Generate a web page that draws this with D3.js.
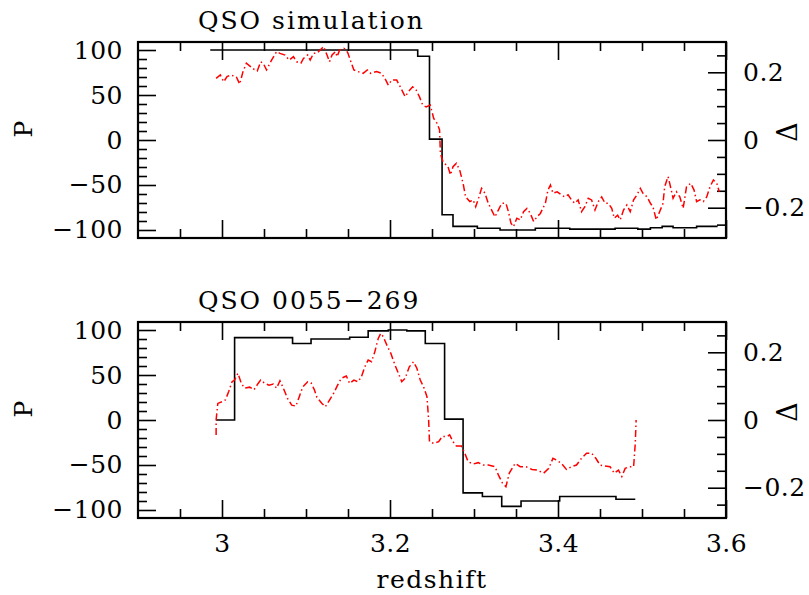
<!DOCTYPE html>
<html>
<head>
<meta charset="utf-8">
<script src="https://cdn.jsdelivr.net/npm/d3@7"></script>
<style>
  body { margin: 0; background: #fff; }
  text { font-family: "DejaVu Serif", serif; }
</style>
</head>
<body>
<script>
var W = 809, H = 595;

// tick values
var zMajor = [3.0, 3.2, 3.4, 3.6];
var zMinor = [2.95, 3.05, 3.1, 3.15, 3.25, 3.3, 3.35, 3.45, 3.5, 3.55];
var pMajor = [-100, -50, 0, 50, 100];
var pMinor = [-90, -80, -70, -60, -40, -30, -20, -10, 10, 20, 30, 40, 60, 70, 80, 90];
var dMajor = [-0.2, 0, 0.2];
var dMinor = [-0.25, -0.15, -0.1, -0.05, 0.05, 0.1, 0.15, 0.25];

// top panel: simulation, P as steps (left axis)
var simStepZ = [2.986, 3.233, 3.247, 3.262, 3.275, 3.304, 3.331, 3.373, 3.414, 3.468, 3.495, 3.510, 3.524, 3.537, 3.565, 3.590];
var simStepP = [100, 93, 1, -83, -96, -98, -100, -98, -99, -98, -99, -97.5, -96, -97.5, -96, -96];

// top panel: Delta (right axis), [redshift, delta]
var simDelta = [
  [2.993, 0.182], [2.998, 0.192], [3.002, 0.172], [3.006, 0.187], [3.010, 0.192], [3.017, 0.187],
  [3.021, 0.165], [3.025, 0.202], [3.029, 0.227], [3.034, 0.217], [3.038, 0.209], [3.042, 0.204],
  [3.046, 0.231], [3.049, 0.227], [3.053, 0.207], [3.059, 0.236], [3.065, 0.261], [3.069, 0.256],
  [3.075, 0.251], [3.080, 0.236], [3.085, 0.246], [3.089, 0.231], [3.094, 0.227], [3.097, 0.241],
  [3.102, 0.251], [3.105, 0.236], [3.109, 0.256], [3.113, 0.256], [3.119, 0.271], [3.121, 0.276],
  [3.125, 0.251], [3.128, 0.231], [3.131, 0.251], [3.135, 0.261], [3.137, 0.246], [3.140, 0.266],
  [3.145, 0.271], [3.148, 0.266], [3.150, 0.256], [3.154, 0.227], [3.157, 0.207], [3.162, 0.202],
  [3.168, 0.197], [3.173, 0.207], [3.177, 0.197], [3.184, 0.202], [3.190, 0.197], [3.195, 0.177],
  [3.198, 0.162], [3.202, 0.177], [3.208, 0.177], [3.213, 0.153], [3.218, 0.128], [3.222, 0.143],
  [3.227, 0.157], [3.231, 0.148], [3.235, 0.128], [3.239, 0.103], [3.243, 0.098], [3.248, 0.103],
  [3.252, 0.064], [3.256, 0.049], [3.259, 0.030], [3.260, -0.039], [3.263, -0.064], [3.269, -0.079],
  [3.272, -0.103], [3.275, -0.079], [3.279, -0.069], [3.283, -0.089], [3.287, -0.128], [3.290, -0.168],
  [3.295, -0.182], [3.299, -0.177], [3.302, -0.197], [3.306, -0.168], [3.309, -0.143], [3.313, -0.157],
  [3.317, -0.187], [3.321, -0.207], [3.325, -0.227], [3.329, -0.207], [3.333, -0.187], [3.338, -0.187],
  [3.341, -0.212], [3.344, -0.246], [3.347, -0.256], [3.351, -0.231], [3.355, -0.236], [3.359, -0.212],
  [3.363, -0.202], [3.367, -0.217], [3.371, -0.241], [3.375, -0.227], [3.379, -0.217], [3.385, -0.187],
  [3.388, -0.148], [3.391, -0.133], [3.394, -0.157], [3.399, -0.153], [3.404, -0.162], [3.408, -0.168],
  [3.412, -0.162], [3.416, -0.177], [3.420, -0.187], [3.424, -0.177], [3.428, -0.212], [3.432, -0.197],
  [3.436, -0.172], [3.440, -0.177], [3.444, -0.207], [3.448, -0.182], [3.452, -0.168], [3.456, -0.187],
  [3.460, -0.187], [3.464, -0.202], [3.467, -0.231], [3.471, -0.222], [3.474, -0.236], [3.478, -0.207],
  [3.482, -0.192], [3.486, -0.212], [3.490, -0.177], [3.494, -0.162], [3.498, -0.143], [3.501, -0.157],
  [3.506, -0.168], [3.510, -0.187], [3.513, -0.197], [3.517, -0.236], [3.521, -0.212], [3.525, -0.187],
  [3.527, -0.138], [3.531, -0.108], [3.533, -0.128], [3.537, -0.172], [3.541, -0.153], [3.545, -0.168],
  [3.549, -0.202], [3.553, -0.138], [3.558, -0.128], [3.562, -0.148], [3.565, -0.182], [3.569, -0.177],
  [3.573, -0.182], [3.577, -0.168], [3.581, -0.138], [3.585, -0.118], [3.589, -0.128], [3.592, -0.153]
];

// bottom panel: QSO 0055-269
var qsoStepZ = [2.993, 3.015, 3.084, 3.106, 3.152, 3.174, 3.198, 3.220, 3.242, 3.265, 3.287, 3.310, 3.333, 3.356, 3.402, 3.469, 3.492];
var qsoStepP = [0, 91.5, 85, 90, 92, 99, 100, 99, 85, 1, -81, -85, -96, -90, -85, -88, -88];

var qsoDelta = [
  [2.993, -0.044], [2.993, 0], [2.995, 0.049], [3.000, 0.054], [3.004, 0.059], [3.008, 0.084],
  [3.012, 0.113], [3.015, 0.118], [3.019, 0.138], [3.023, 0.108], [3.027, 0.094], [3.033, 0.097],
  [3.038, 0.089], [3.043, 0.108], [3.046, 0.118], [3.051, 0.108], [3.056, 0.103], [3.061, 0.106],
  [3.065, 0.094], [3.069, 0.116], [3.073, 0.094], [3.078, 0.064], [3.083, 0.044], [3.088, 0.041],
  [3.092, 0.069], [3.096, 0.097], [3.102, 0.113], [3.106, 0.110], [3.110, 0.089], [3.113, 0.067],
  [3.119, 0.049], [3.123, 0.039], [3.128, 0.059], [3.133, 0.079], [3.137, 0.100], [3.142, 0.123],
  [3.148, 0.130], [3.152, 0.108], [3.157, 0.118], [3.162, 0.113], [3.166, 0.128], [3.170, 0.157],
  [3.174, 0.177], [3.178, 0.172], [3.182, 0.202], [3.186, 0.241], [3.189, 0.256], [3.192, 0.246],
  [3.197, 0.217], [3.201, 0.197], [3.206, 0.162], [3.210, 0.138], [3.214, 0.113], [3.218, 0.123],
  [3.223, 0.157], [3.228, 0.172], [3.232, 0.153], [3.236, 0.118], [3.240, 0.098], [3.244, 0.069],
  [3.246, 0], [3.247, -0.064], [3.252, -0.069], [3.258, -0.064], [3.262, -0.049], [3.268, -0.049],
  [3.271, -0.044], [3.275, -0.064], [3.279, -0.077], [3.285, -0.077], [3.289, -0.098], [3.293, -0.123],
  [3.299, -0.130], [3.305, -0.126], [3.311, -0.133], [3.317, -0.133], [3.325, -0.138], [3.329, -0.162],
  [3.334, -0.187], [3.338, -0.197], [3.342, -0.157], [3.349, -0.128], [3.355, -0.138], [3.362, -0.138],
  [3.369, -0.146], [3.375, -0.148], [3.383, -0.157], [3.389, -0.143], [3.394, -0.113], [3.398, -0.118],
  [3.404, -0.128], [3.410, -0.146], [3.416, -0.138], [3.422, -0.133], [3.428, -0.113], [3.434, -0.098],
  [3.440, -0.098], [3.445, -0.113], [3.450, -0.133], [3.456, -0.136], [3.462, -0.138], [3.467, -0.157],
  [3.472, -0.148], [3.476, -0.167], [3.480, -0.143], [3.485, -0.138], [3.490, -0.138], [3.492, -0.069],
  [3.493, 0]
];

var svg = d3.select("body").append("svg")
    .attr("width", W)
    .attr("height", H);

var left = 138, right = 726;
var x = d3.scaleLinear().domain([2.9, 3.6]).range([left, right]);

function fmt(d) {
    return d < 0 ? "\u2212" + Math.abs(d) : String(d);
}

function styleAxis(g) {
    g.select(".domain").remove();
    g.selectAll("line").attr("stroke", "#000").attr("stroke-width", 1.6);
    g.selectAll("text")
        .attr("font-family", "DejaVu Serif, serif")
        .attr("font-size", 25)
        .attr("letter-spacing", 0.5)
        .attr("fill", "#000");
}

function drawPanel(top, title, stepZ, stepP, delta, xLabels) {
    var bottom = top + 196;
    var yP = d3.scaleLinear().domain([-108.9, 108.9]).range([bottom, top]);
    var yD = d3.scaleLinear().domain([-0.2895, 0.2895]).range([bottom, top]);
    var g = svg.append("g");

    // ticks (pointing inwards)
    g.append("g").attr("transform", "translate(" + left + ",0)")
        .call(d3.axisLeft(yP).tickValues(pMajor).tickSize(-18).tickPadding(15).tickFormat(fmt))
        .call(styleAxis);
    g.append("g").attr("transform", "translate(" + left + ",0)")
        .call(d3.axisLeft(yP).tickValues(pMinor).tickSize(-9).tickFormat(""))
        .call(styleAxis);
    g.append("g").attr("transform", "translate(" + right + ",0)")
        .call(d3.axisRight(yD).tickValues(dMajor).tickSize(-18).tickPadding(17).tickFormat(fmt))
        .call(styleAxis);
    g.append("g").attr("transform", "translate(" + right + ",0)")
        .call(d3.axisRight(yD).tickValues(dMinor).tickSize(-9).tickFormat(""))
        .call(styleAxis);
    g.append("g").attr("transform", "translate(0," + bottom + ")")
        .call(d3.axisBottom(x).tickValues(zMajor).tickSize(-18).tickPadding(16)
            .tickFormat(xLabels ? function (d) { return d === 3 ? "3" : d.toFixed(1); } : ""))
        .call(styleAxis);
    g.append("g").attr("transform", "translate(0," + bottom + ")")
        .call(d3.axisBottom(x).tickValues(zMinor).tickSize(-9).tickFormat(""))
        .call(styleAxis);
    g.append("g").attr("transform", "translate(0," + top + ")")
        .call(d3.axisTop(x).tickValues(zMajor).tickSize(-18).tickFormat(""))
        .call(styleAxis);
    g.append("g").attr("transform", "translate(0," + top + ")")
        .call(d3.axisTop(x).tickValues(zMinor).tickSize(-9).tickFormat(""))
        .call(styleAxis);

    // P step line
    var stepLine = d3.line()
        .x(function (d) { return x(d[0]); })
        .y(function (d) { return yP(d[1]); })
        .curve(d3.curveStepAfter);
    g.append("path")
        .datum(d3.zip(stepZ, stepP))
        .attr("d", stepLine)
        .attr("fill", "none")
        .attr("stroke", "#000")
        .attr("stroke-width", 1.6);

    // Delta dash-dot line
    var dLine = d3.line()
        .x(function (d) { return x(d[0]); })
        .y(function (d) { return yD(d[1]); });
    g.append("path")
        .datum(delta)
        .attr("d", dLine)
        .attr("fill", "none")
        .attr("stroke", "#ff0000")
        .attr("stroke-width", 1.5)
        .attr("stroke-dasharray", "7,3,1.5,3");

    // frame
    g.append("rect")
        .attr("x", left).attr("y", top)
        .attr("width", right - left).attr("height", bottom - top)
        .attr("fill", "none")
        .attr("stroke", "#000")
        .attr("stroke-width", 2.2);

    // titles and axis names
    g.append("text")
        .attr("x", 198).attr("y", top - 13)
        .attr("font-size", 25)
        .attr("letter-spacing", 2)
        .text(title);
    g.append("text")
        .attr("transform", "translate(32," + yP(12) + ") rotate(-90)")
        .attr("text-anchor", "middle")
        .attr("font-size", 25)
        .text("P");
    g.append("text")
        .attr("transform", "translate(797," + yP(9) + ") rotate(-90)")
        .attr("text-anchor", "middle")
        .attr("font-size", 27)
        .text("\u0394");
}

drawPanel(42, "QSO simulation", simStepZ, simStepP, simDelta, false);
drawPanel(322, "QSO 0055\u2212269", qsoStepZ, qsoStepP, qsoDelta, true);

svg.append("text")
    .attr("x", x(3.25)).attr("y", 588)
    .attr("text-anchor", "middle")
    .attr("font-size", 25)
    .attr("letter-spacing", 1.5)
    .text("redshift");
</script>
</body>
</html>
